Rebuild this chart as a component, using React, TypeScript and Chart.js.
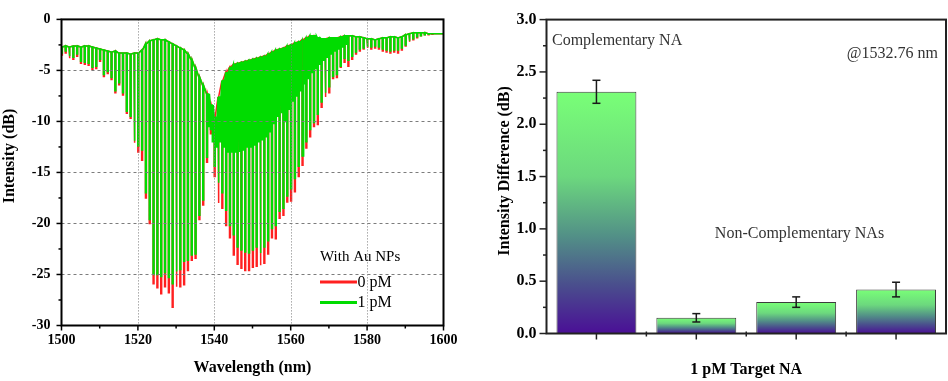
import React, { useEffect, useRef } from 'react';
import { Chart, registerables } from 'chart.js';

Chart.register(...registerables);

const SERIF = '"Liberation Serif", "Times New Roman", serif';

// ---------------- Left panel: transmission spectra ----------------
const WAVELENGTH_MIN = 1500;
const WAVELENGTH_MAX = 1600;
const FIRST_DIP_NM = 1500.1;
const COMB_SPACING_NM = 1.0;

// upper envelope of the comb (dB), one value per comb period
const TOP_ENVELOPE = [
  -2.7, -2.6, -2.7, -2.6, -2.6, -2.7, -2.6, -2.6, -2.7, -2.8,
  -2.9, -3.0, -3.1, -3.2, -3.1, -3.3, -3.3, -3.3, -3.4, -3.3,
  -3.3, -3.0, -2.4, -2.1, -2.0, -1.9, -2.0, -2.0, -2.2, -2.4,
  -2.6, -2.8, -3.0, -3.4, -4.0, -4.8, -5.7, -6.5, -7.3, -8.4,
  -9.6, -7.6, -6.0, -5.2, -4.7, -4.4, -4.3, -4.2, -4.1, -4.0,
  -3.9, -3.8, -3.7, -3.6, -3.4, -3.2, -3.0, -2.9, -2.8, -2.6,
  -2.5, -2.3, -2.2, -2.0, -1.8, -1.6, -1.6, -1.8, -1.9, -1.9,
  -1.8, -1.8, -1.8, -1.7, -1.6, -1.6, -1.6, -1.7, -1.7, -1.8,
  -1.9, -1.9, -2.0, -1.9, -1.8, -1.8, -1.7, -1.7, -1.8, -1.7,
  -1.5, -1.4, -1.3, -1.3, -1.3, -1.3, -1.4, -1.4, -1.4, -1.4,
];

// dip depth (dB) of each comb period, 0 pM
const DIP_0PM = [
  -3.5, -3.3, -3.8, -3.9, -3.6, -4.3, -4.4, -4.5, -4.9, -4.8,
  -4.1, -5.6, -5.3, -5.9, -7.2, -6.4, -7.4, -9.2, -9.7, -12.1,
  -13.0, -13.8, -17.5, -20.0, -25.9, -26.3, -26.9, -26.2, -26.8, -28.2,
  -26.2, -26.2, -26.0, -24.6, -23.6, -23.4, -19.6, -18.2, -14.0, -11.2,
  -15.4, -18.0, -18.5, -20.2, -21.4, -23.1, -24.0, -24.4, -24.6, -24.6,
  -24.3, -24.2, -24.1, -23.9, -23.0, -21.4, -21.5, -19.5, -19.2, -17.9,
  -17.8, -16.9, -15.4, -14.3, -12.6, -11.5, -10.5, -10.3, -8.6, -7.6,
  -7.2, -5.8, -5.7, -4.7, -4.2, -4.6, -3.9, -3.4, -3.1, -2.9,
  -2.8, -2.9, -2.8, -2.9, -3.1, -3.2, -3.3, -3.2, -3.3, -3.0,
  -2.6, -2.2, -2.0, -1.8, -1.6, -1.5, -1.5, -1.45, -1.4, -1.4,
];

// dip depth (dB) of each comb period, 1 pM
const DIP_1PM = [
  -3.3, -3.1, -3.6, -3.7, -3.4, -4.1, -4.2, -4.3, -4.7, -4.6,
  -3.9, -5.4, -5.1, -5.7, -7.0, -6.2, -7.2, -9.0, -9.5, -11.9,
  -12.4, -12.8, -17.0, -19.6, -25.0, -25.0, -25.2, -24.8, -25.3, -25.9,
  -24.7, -24.5, -23.7, -23.6, -23.1, -23.0, -19.2, -17.7, -13.5, -10.8,
  -14.4, -16.0, -17.0, -18.7, -20.2, -21.1, -22.3, -22.6, -22.8, -22.9,
  -22.6, -22.3, -22.9, -22.3, -21.7, -20.5, -20.2, -18.8, -18.5, -17.3,
  -16.6, -15.6, -14.4, -13.4, -12.0, -10.8, -10.1, -9.3, -8.1, -7.2,
  -6.6, -5.6, -5.4, -4.6, -3.8, -4.0, -3.6, -3.2, -2.9, -2.8,
  -2.7, -2.7, -2.6, -2.7, -2.9, -3.0, -3.1, -3.0, -3.0, -2.8,
  -2.5, -2.1, -1.9, -1.7, -1.6, -1.5, -1.45, -1.4, -1.4, -1.4,
];

// secondary (interleaved) dips of the 1 pM spectrum, null where absent
const SUB_DIP_1PM: (number | null)[] = [
  null, null, null, null, null, null, null, null, null, null,
  null, null, null, null, null, null, null, null, null, null,
  null, null, null, null, null, null, null, null, null, null,
  null, null, null, null, null, null, null, null, -10.5, -12.0,
  -12.5, -12.0, -12.5, -13.0, -13.0, -13.0, -13.0, -12.8, -12.5, -12.5,
  -12.3, -12.0, -11.8, -11.5, -11.0, -10.2, -9.5, -9.2, -10.0, -8.8,
  -8.0, -7.5, -7.0, -6.3, -5.8, -5.2, -4.8, -4.4, -4.0, -3.7,
  -3.4, -3.1, -2.9, -2.7, -2.5, null, null, null, null, null,
  null, null, null, null, null, null, null, null, null, null,
  null, null, null, null, null, null, null, null, null, null,
];

const X_TICKS = [1500, 1520, 1540, 1560, 1580, 1600];
const Y_TICKS = [0, -5, -10, -15, -20, -25, -30];
const LEGEND_TITLE = 'With Au NPs';
const SERIES_NAMES = ['0 pM', '1 pM'];
const SERIES_COLORS = ['#ff2020', '#00dc00'];
const LEFT_X_TITLE = 'Wavelength (nm)';
const LEFT_Y_TITLE = 'Intensity (dB)';

// ---------------- Right panel: intensity difference ----------------
const TARGETS = ['Complementary NA', 'Non-Complementary NA 1', 'Non-Complementary NA 2', 'Non-Complementary NA 3'];
const DIFF_DB = [2.31, 0.15, 0.30, 0.42];
const DIFF_ERR = [0.11, 0.04, 0.05, 0.07];
const RIGHT_Y_TICKS = [0, 0.5, 1.0, 1.5, 2.0, 2.5, 3.0];
const RIGHT_X_TITLE = '1 pM Target NA';
const RIGHT_Y_TITLE = 'Intensity Difference (dB)';
const NOTE_COMP = 'Complementary NA';
const NOTE_NONCOMP = 'Non-Complementary NAs';
const NOTE_WL = '@1532.76 nm';
const GRADIENT = [
  [0, '#79ff77'],
  [0.35, '#6cd87e'],
  [0.6, '#528f87'],
  [0.8, '#4a4e8d'],
  [1, '#4a0f96'],
];

const HALF_W = 0.12; // half width of a drawn dip, nm (render style)

function combLine(dips: number[], subDips?: (number | null)[]) {
  const pts: { x: number; y: number }[] = [{ x: WAVELENGTH_MIN, y: TOP_ENVELOPE[0] }];
  TOP_ENVELOPE.forEach((top, i) => {
    const c = FIRST_DIP_NM + i * COMB_SPACING_NM;
    pts.push({ x: c - HALF_W, y: top }, { x: c - HALF_W, y: dips[i] }, { x: c + HALF_W, y: dips[i] }, { x: c + HALF_W, y: top });
    const s = subDips ? subDips[i] : null;
    if (s != null) {
      const cs = c + COMB_SPACING_NM / 2;
      pts.push({ x: cs - HALF_W, y: top }, { x: cs - HALF_W, y: s }, { x: cs + HALF_W, y: s }, { x: cs + HALF_W, y: top });
    }
  });
  pts.push({ x: WAVELENGTH_MAX, y: TOP_ENVELOPE[TOP_ENVELOPE.length - 1] });
  return pts;
}

function seg(ctx: CanvasRenderingContext2D, x1: number, y1: number, x2: number, y2: number) {
  ctx.beginPath();
  ctx.moveTo(x1, y1);
  ctx.lineTo(x2, y2);
  ctx.stroke();
}

const leftDecor = {
  id: 'leftDecor',
  afterDatasetsDraw(chart: any) {
    const { ctx, chartArea: a, scales } = chart;
    const x = scales.x, y = scales.y;
    ctx.save();
    ctx.strokeStyle = '#7c7c7c';
    ctx.lineWidth = 1;
    ctx.setLineDash([3, 3]);
    Y_TICKS.slice(1, -1).forEach((v) => {
      const py = Math.round(y.getPixelForValue(v)) + 0.5;
      seg(ctx, a.left, py, a.right, py);
    });
    ctx.setLineDash([1, 2]);
    X_TICKS.slice(1, -1).forEach((v) => {
      const px = Math.round(x.getPixelForValue(v)) + 0.5;
      seg(ctx, px, a.top, px, a.bottom);
    });
    ctx.restore();
  },
  afterDraw(chart: any) {
    const { ctx, chartArea: a, scales } = chart;
    const x = scales.x, y = scales.y;
    ctx.save();
    ctx.setLineDash([]);
    ctx.strokeStyle = '#000';
    ctx.lineWidth = 2;
    ctx.strokeRect(a.left, a.top, a.right - a.left, a.bottom - a.top);
    ctx.lineWidth = 1.5;
    Y_TICKS.forEach((v, i) => {
      const py = y.getPixelForValue(v);
      seg(ctx, a.left - 5, py, a.left, py);
      if (i < Y_TICKS.length - 1) {
        const pm = y.getPixelForValue((v + Y_TICKS[i + 1]) / 2);
        seg(ctx, a.left - 3, pm, a.left, pm);
      }
    });
    X_TICKS.forEach((v, i) => {
      const px = x.getPixelForValue(v);
      seg(ctx, px, a.bottom, px, a.bottom + 5);
      if (i < X_TICKS.length - 1) {
        const pm = x.getPixelForValue((v + X_TICKS[i + 1]) / 2);
        seg(ctx, pm, a.bottom, pm, a.bottom + 3);
      }
    });
    // titles
    ctx.fillStyle = '#000';
    ctx.font = `bold 16px ${SERIF}`;
    ctx.textAlign = 'center';
    ctx.textBaseline = 'middle';
    ctx.fillText(LEFT_X_TITLE, (a.left + a.right) / 2, 368);
    ctx.save();
    ctx.translate(10, 156);
    ctx.rotate(-Math.PI / 2);
    ctx.fillText(LEFT_Y_TITLE, 0, 0);
    ctx.restore();
    // legend
    ctx.font = `15px ${SERIF}`;
    ctx.textAlign = 'left';
    ctx.fillText(LEGEND_TITLE, 320, 257);
    SERIES_NAMES.forEach((name, i) => {
      const ly = 282 + i * 20.5;
      ctx.strokeStyle = SERIES_COLORS[i];
      ctx.lineWidth = 3;
      seg(ctx, 320, ly, 357, ly);
      ctx.fillStyle = '#000';
      ctx.font = `16px ${SERIF}`;
      ctx.fillText(name, 357.5, ly + 0.5);
    });
    ctx.restore();
  },
};

const rightDecor = {
  id: 'rightDecor',
  afterDatasetsDraw(chart: any) {
    const { ctx, scales } = chart;
    const y = scales.y;
    const meta = chart.getDatasetMeta(0);
    ctx.save();
    ctx.strokeStyle = '#1a1a1a';
    ctx.lineWidth = 1.5;
    DIFF_DB.forEach((v, i) => {
      const bx = meta.data[i].x;
      const t = y.getPixelForValue(v + DIFF_ERR[i]);
      const b = y.getPixelForValue(v - DIFF_ERR[i]);
      seg(ctx, bx, t, bx, b);
      seg(ctx, bx - 4, t, bx + 4, t);
      seg(ctx, bx - 4, b, bx + 4, b);
    });
    ctx.restore();
  },
  afterDraw(chart: any) {
    const { ctx, chartArea: a, scales } = chart;
    const x = scales.x, y = scales.y;
    ctx.save();
    ctx.strokeStyle = '#222';
    ctx.lineWidth = 2;
    ctx.strokeRect(a.left, a.top, a.right - a.left, a.bottom - a.top);
    ctx.lineWidth = 1.5;
    RIGHT_Y_TICKS.forEach((v, i) => {
      const py = y.getPixelForValue(v);
      seg(ctx, a.left - 7, py, a.left, py);
      if (i < RIGHT_Y_TICKS.length - 1) {
        const pm = y.getPixelForValue((v + RIGHT_Y_TICKS[i + 1]) / 2);
        seg(ctx, a.left - 3.5, pm, a.left, pm);
      }
    });
    TARGETS.forEach((_, i) => {
      const px = x.getPixelForValue(i);
      seg(ctx, px, a.bottom, px, a.bottom + 6);
      if (i > 0) {
        const pb = (x.getPixelForValue(i - 1) + px) / 2;
        seg(ctx, pb, a.bottom - 2, pb, a.bottom + 3);
      }
    });
    ctx.fillStyle = '#000';
    ctx.font = `bold 16px ${SERIF}`;
    ctx.textAlign = 'center';
    ctx.textBaseline = 'middle';
    ctx.fillText(RIGHT_X_TITLE, (a.left + a.right) / 2, 370);
    ctx.save();
    ctx.translate(35, 171);
    ctx.rotate(-Math.PI / 2);
    ctx.fillText(RIGHT_Y_TITLE, 0, 0);
    ctx.restore();
    ctx.fillStyle = '#333';
    ctx.font = `16px ${SERIF}`;
    ctx.textAlign = 'left';
    ctx.fillText(NOTE_COMP, 82, 41);
    ctx.textAlign = 'right';
    ctx.fillText(NOTE_WL, 468, 53.5);
    ctx.textAlign = 'center';
    ctx.fillText(NOTE_NONCOMP, 329.5, 233.5);
    ctx.restore();
  },
};

function barGradient(c: any) {
  const chart = c.chart;
  if (!chart.chartArea || c.type !== 'data') return GRADIENT[0][1] as string;
  const y = chart.scales.y;
  const v = DIFF_DB[c.dataIndex];
  const top = y.getPixelForValue(v);
  const bottom = y.getPixelForValue(0);
  const g = chart.ctx.createLinearGradient(0, top, 0, bottom);
  GRADIENT.forEach(([o, col]) => g.addColorStop(o as number, col as string));
  return g;
}

export default function App() {
  const leftRef = useRef<HTMLCanvasElement>(null);
  const rightRef = useRef<HTMLCanvasElement>(null);

  useEffect(() => {
    const tickFont = { family: SERIF, size: 14, weight: 'bold' as const };
    const left = new Chart(leftRef.current!, {
      type: 'line',
      data: {
        datasets: [
          {
            label: SERIES_NAMES[1],
            data: combLine(DIP_1PM, SUB_DIP_1PM),
            borderColor: SERIES_COLORS[1],
            borderWidth: 1.5,
            pointRadius: 0,
            tension: 0,
            fill: false,
            clip: 0,
          },
          {
            label: SERIES_NAMES[0],
            data: combLine(DIP_0PM),
            borderColor: SERIES_COLORS[0],
            borderWidth: 1.5,
            pointRadius: 0,
            tension: 0,
            fill: false,
            clip: 0,
          },
        ],
      },
      options: {
        responsive: false,
        animation: false,
        devicePixelRatio: 1,
        layout: { padding: { top: 9, right: 26.5, left: 0, bottom: 0 } },
        plugins: { legend: { display: false }, tooltip: { enabled: false } },
        scales: {
          x: {
            type: 'linear',
            min: WAVELENGTH_MIN,
            max: WAVELENGTH_MAX,
            afterBuildTicks: (s: any) => { s.ticks = X_TICKS.map((v) => ({ value: v })); },
            ticks: { font: tickFont, color: '#000', padding: 6, maxRotation: 0, callback: (v: any) => String(v) },
            grid: { display: false, drawTicks: false },
            border: { display: false },
            afterFit: (s: any) => { s.height = 55.5; },
          },
          y: {
            type: 'linear',
            min: -30,
            max: 0,
            afterBuildTicks: (s: any) => { s.ticks = Y_TICKS.map((v) => ({ value: v })); },
            ticks: { font: tickFont, color: '#000', padding: 11, callback: (v: any) => String(v) },
            grid: { display: false, drawTicks: false },
            border: { display: false },
            afterFit: (s: any) => { s.width = 61.5; },
          },
        },
      },
      plugins: [leftDecor],
    } as any);

    const right = new Chart(rightRef.current!, {
      type: 'bar',
      data: {
        labels: TARGETS,
        datasets: [
          {
            label: RIGHT_Y_TITLE,
            data: DIFF_DB,
            backgroundColor: barGradient,
            borderColor: '#3c3c3c',
            borderWidth: 1,
            barPercentage: 0.8,
            categoryPercentage: 1.0,
          },
        ],
      },
      options: {
        responsive: false,
        animation: false,
        devicePixelRatio: 1,
        layout: { padding: { top: 10, right: 2, left: 0, bottom: 0 } },
        plugins: { legend: { display: false }, tooltip: { enabled: false } },
        scales: {
          x: {
            ticks: { display: false },
            grid: { display: false, drawTicks: false },
            border: { display: false },
            afterFit: (s: any) => { s.height = 47.5; },
          },
          y: {
            min: 0,
            max: 3,
            afterBuildTicks: (s: any) => { s.ticks = RIGHT_Y_TICKS.map((v) => ({ value: v })); },
            ticks: { font: { family: SERIF, size: 16, weight: 'bold' }, color: '#000', padding: 10, callback: (v: any) => Number(v).toFixed(1) },
            grid: { display: false, drawTicks: false },
            border: { display: false },
            afterFit: (s: any) => { s.width = 76.5; },
          },
        },
      },
      plugins: [rightDecor],
    } as any);

    return () => {
      left.destroy();
      right.destroy();
    };
  }, []);

  return (
    <div style={{ position: 'fixed', left: 0, top: 0, width: 948, height: 381, background: '#fff', overflow: 'hidden' }}>
      <canvas ref={leftRef} width={470} height={381} style={{ position: 'absolute', left: 0, top: 0, width: 470, height: 381 }} />
      <canvas ref={rightRef} width={478} height={381} style={{ position: 'absolute', left: 470, top: 0, width: 478, height: 381 }} />
    </div>
  );
}
